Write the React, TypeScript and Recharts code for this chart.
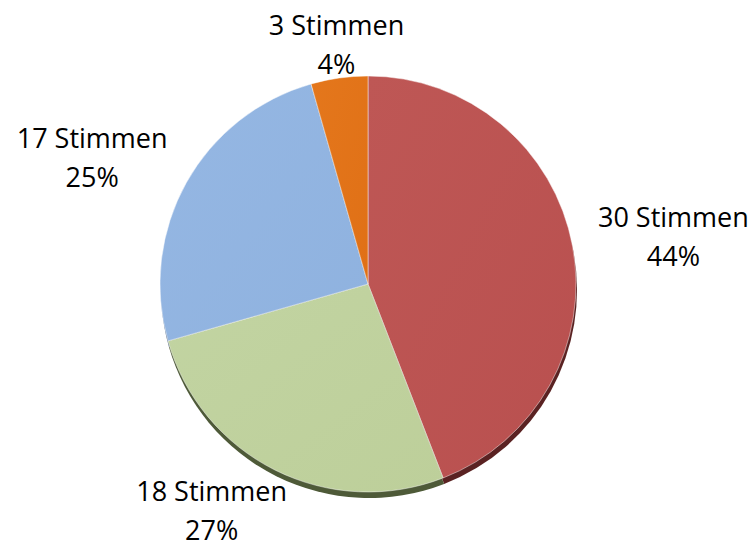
import { PieChart, Pie, Cell } from "recharts";

const categories = ["30 Stimmen", "18 Stimmen", "17 Stimmen", "3 Stimmen"];
const votes = [30, 18, 17, 3];
const percentLabels = ["44%", "27%", "25%", "4%"];

const fills = ["#B9504F", "#BDCF9A", "#8FB2DF", "#E07016"];
const lightFills = ["#BE5755", "#C2D4A2", "#95B7E3", "#E4771C"];
const shadowFills = ["#5A2222", "#4E5A38", "#4A5E78", "#7A3A08"];

const data = categories.map((name, i) => ({
  name,
  value: votes[i],
  pct: percentLabels[i],
}));

const RAD = Math.PI / 180;

function renderLabel(props: any) {
  const { cx, cy, midAngle, outerRadius, index } = props;
  const cos = Math.cos(midAngle * RAD);
  const sin = Math.sin(midAngle * RAD);
  // anchor just outside the rim, then push the text block outward
  const px = cx + (outerRadius + 20) * cos;
  const py = cy - (outerRadius + 5) * sin;
  const side = Math.min(1, Math.max(0, (Math.abs(cos) - 0.15) / 0.2));
  const x = px + 82 * Math.sign(cos) * Math.sqrt(Math.abs(cos)) * side;
  const h = sin < 0 ? 40 : 50 - 22 * Math.pow(sin, 4);
  const y = py - h * sin;
  return (
    <text
      key={`lbl-${index}`}
      x={x}
      y={y}
      textAnchor="middle"
      fill="#000"
      fontFamily="'Open Sans', sans-serif"
      fontSize={27}
    >
      <tspan x={x} dy={-9}>
        {data[index].name}
      </tspan>
      <tspan x={x} dy={39}>
        {data[index].pct}
      </tspan>
    </text>
  );
}

export default function App() {
  return (
    <div style={{ position: "absolute", left: 0, top: 0, background: "#fff" }}>
      <PieChart
        width={756}
        height={551}
        margin={{ top: 0, right: 0, bottom: 0, left: 0 }}
      >
        <defs>
          {fills.map((c, i) => (
            <linearGradient key={c} id={`g${i}`} x1="0" y1="0" x2="1" y2="1">
              <stop offset="0%" stopColor={lightFills[i]} />
              <stop offset="100%" stopColor={c} />
            </linearGradient>
          ))}
        </defs>
        <Pie
          data={data}
          dataKey="value"
          cx={369}
          cy={290}
          outerRadius={208}
          startAngle={90}
          endAngle={-270}
          stroke="none"
          label={false}
          labelLine={false}
          isAnimationActive={false}
        >
          {data.map((d, i) => (
            <Cell key={d.name} fill={shadowFills[i]} />
          ))}
        </Pie>
        <Pie
          data={data}
          dataKey="value"
          cx={368}
          cy={284}
          outerRadius={208}
          startAngle={90}
          endAngle={-270}
          stroke="rgba(255,255,255,0.45)"
          strokeWidth={1}
          label={renderLabel}
          labelLine={false}
          isAnimationActive={false}
        >
          {data.map((d, i) => (
            <Cell key={d.name} fill={`url(#g${i})`} />
          ))}
        </Pie>
      </PieChart>
    </div>
  );
}
